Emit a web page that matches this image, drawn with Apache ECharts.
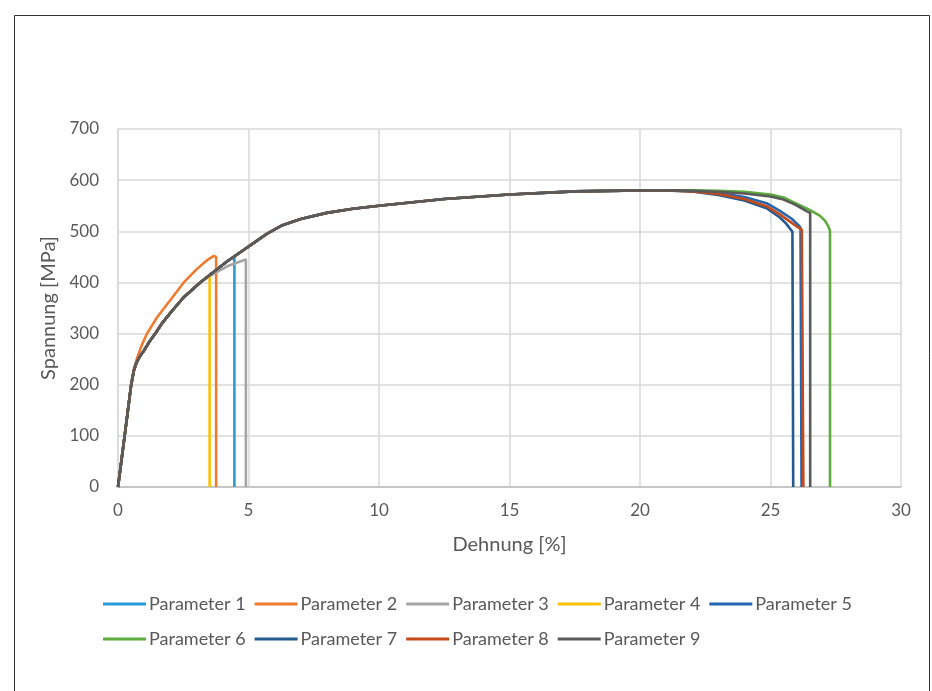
<!DOCTYPE html>
<html>
<head>
<meta charset="utf-8">
<title>Spannung-Dehnung</title>
<script src="https://cdn.jsdelivr.net/npm/echarts@6/dist/echarts.min.js"></script>
<style>
  html, body { margin: 0; padding: 0; background: #fff; }
  #chart { width: 932px; height: 691px; }
</style>
</head>
<body>
<div id="chart"></div>
<script>
// Spannung [MPa] über Dehnung [%]
const seriesNames = ['Parameter 1', 'Parameter 2', 'Parameter 3', 'Parameter 4', 'Parameter 5',
  'Parameter 6', 'Parameter 7', 'Parameter 8', 'Parameter 9'];
const colors = ['#2a9bd8', '#f07b2f', '#a5a5a5', '#ffc000', '#2566b0',
  '#5cac3e', '#235a8f', '#c54a1a', '#5a5a5a'];

const xTicks = [0, 5, 10, 15, 20, 25, 30];
const yTicks = [0, 100, 200, 300, 400, 500, 600, 700];

// gemeinsamer Verlauf bis 21 %
const baseStrain = [0, 0.3, 0.5, 0.6, 0.7, 0.8, 0.9, 1.0, 1.2, 1.43, 1.7, 2.0, 2.5, 3.15, 3.6, 4.2, 5.0, 5.7, 6.3, 7.0, 8.0, 9.0, 10.0, 12.5, 15.0, 17.5, 20.0, 21.0];
const baseStress = [0, 118, 198, 226, 242, 252, 260, 267, 284, 300, 321, 340, 370, 400, 418, 442, 470, 495, 512, 524, 536, 544, 550, 563, 572, 578, 580, 580];

const p1Strain = [4.46, 4.46];
const p1Stress = [450, 0];

const p2Strain = [0, 0.3, 0.5, 0.6, 0.75, 0.9, 1.11, 1.5, 2.0, 2.52, 3.0, 3.4, 3.67, 3.76, 3.76];
const p2Stress = [0, 118, 200, 230, 255, 276, 300, 332, 365, 400, 425, 443, 452, 450, 0];

const p3Strain = [3.6, 4.2, 4.9, 4.9];
const p3Stress = [415, 432, 445, 0];

const p4Strain = [3.51, 3.51];
const p4Stress = [414, 0];

const p5Strain = [22, 23, 24, 24.85, 25.36, 25.8, 26.05, 26.15, 26.19, 26.19];
const p5Stress = [579, 575, 567, 555, 540, 525, 513, 507, 504, 0];

const p6Strain = [22, 23, 24, 25, 25.5, 26.0, 26.5, 26.9, 27.1, 27.22, 27.28, 27.28];
const p6Stress = [580, 579, 577, 572, 566, 554, 542, 530, 520, 509, 501, 0];

const p7Strain = [22, 23, 24, 24.85, 25.36, 25.6, 25.75, 25.84, 25.87, 25.87];
const p7Stress = [578, 571, 560, 545, 527, 515, 505, 499, 496, 0];

const p8Strain = [22, 23, 24, 24.85, 25.36, 25.8, 26.05, 26.2, 26.26, 26.26];
const p8Stress = [578, 573, 563, 549, 533, 517, 508, 503, 500, 0];

const p9Strain = [22, 23, 24, 25, 25.5, 25.9, 26.2, 26.4, 26.52, 26.52];
const p9Stress = [579, 577, 574, 568, 562, 553, 545, 539, 536, 0];

function pairs(xs, ys) {
  return xs.map((x, i) => [x, ys[i]]);
}
function baseUpTo(limit) {
  return pairs(baseStrain, baseStress).filter(p => p[0] <= limit);
}

const seriesData = [
  baseUpTo(4.2).concat(pairs(p1Strain, p1Stress)),
  pairs(p2Strain, p2Stress),
  baseUpTo(3.15).concat(pairs(p3Strain, p3Stress)),
  baseUpTo(3.15).concat(pairs(p4Strain, p4Stress)),
  baseUpTo(21).concat(pairs(p5Strain, p5Stress)),
  baseUpTo(21).concat(pairs(p6Strain, p6Stress)),
  baseUpTo(21).concat(pairs(p7Strain, p7Stress)),
  baseUpTo(21).concat(pairs(p8Strain, p8Stress)),
  baseUpTo(21).concat(pairs(p9Strain, p9Stress))
];

const chart = echarts.init(document.getElementById('chart'), null, { renderer: 'canvas' });

const font = "Lato, 'Open Sans', sans-serif";
const textColor = '#595959';

const legendBase = {
  left: 98,
  icon: 'rect',
  itemWidth: 43,
  itemHeight: 3,
  itemGap: 9,
  textStyle: { color: textColor, fontSize: 18, fontFamily: font, padding: [0, 0, 0, -2] }
};

var option = {
  backgroundColor: '#ffffff',
  color: colors,
  animation: false,
  textStyle: { fontFamily: font },
  grid: { left: 118, right: 31, top: 129, bottom: 204 },
  legend: [
    Object.assign({}, legendBase, { top: 590, data: seriesNames.slice(0, 5) }),
    Object.assign({}, legendBase, { top: 625, data: seriesNames.slice(5) })
  ],
  graphic: [{
    type: 'rect',
    shape: { x: 14.5, y: 15.5, width: 915, height: 700 },
    style: { fill: 'none', stroke: '#333', lineWidth: 1 },
    silent: true
  }],
  xAxis: {
    type: 'value',
    min: xTicks[0],
    max: xTicks[xTicks.length - 1],
    interval: 5,
    name: 'Dehnung [%]',
    nameLocation: 'middle',
    nameGap: 48,
    nameTextStyle: { color: textColor, fontSize: 20, fontFamily: font },
    axisLine: { lineStyle: { color: '#bfbfbf', width: 1.5 } },
    axisTick: { show: false },
    axisLabel: { color: textColor, fontSize: 17, margin: 15, fontFamily: font },
    splitLine: { show: true, lineStyle: { color: '#d9d9d9', width: 1.5 } }
  },
  yAxis: {
    type: 'value',
    min: yTicks[0],
    max: yTicks[yTicks.length - 1],
    interval: 100,
    name: 'Spannung [MPa]',
    nameLocation: 'middle',
    nameGap: 54,
    nameTextStyle: { color: textColor, fontSize: 20, fontFamily: font },
    axisLine: { show: true, lineStyle: { color: '#d9d9d9', width: 1.5 } },
    axisTick: { show: false },
    axisLabel: { color: textColor, fontSize: 17, margin: 19, fontFamily: font },
    splitLine: { show: true, lineStyle: { color: '#d9d9d9', width: 1.5 } }
  },
  series: seriesNames.map((name, i) => ({
    name: name,
    type: 'line',
    data: seriesData[i],
    showSymbol: false,
    symbol: 'none',
    lineStyle: { width: 2.6 },
    z: 2 + i
  }))
};

chart.setOption(option, true);
</script>
</body>
</html>
